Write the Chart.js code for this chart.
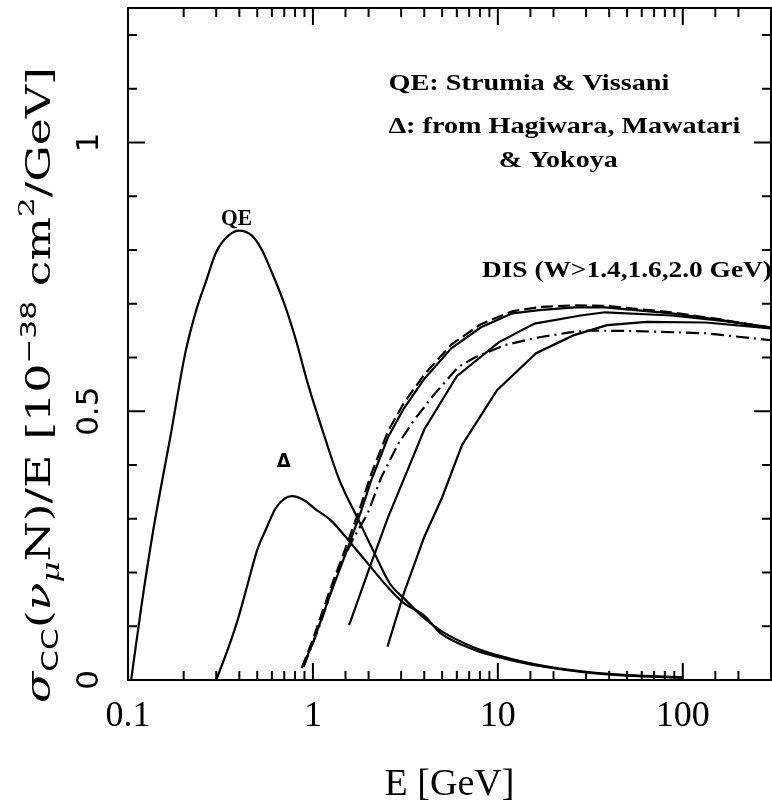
<!DOCTYPE html>
<html>
<head>
<meta charset="utf-8">
<script src="https://cdn.jsdelivr.net/npm/chart.js@4.4.1/dist/chart.umd.min.js"></script>
<style>
  html, body { margin: 0; padding: 0; background: #fff; }
  canvas { display: block; }
</style>
</head>
<body>
<canvas id="grafico" width="772" height="806"></canvas>
<script>
// Valores: E en GeV, sigma/E en 10^-38 cm^2/GeV
const qeE     = [0.104, 0.118, 0.137, 0.151, 0.169, 0.204, 0.234, 0.265, 0.30, 0.35, 0.40, 0.466, 0.53, 0.60, 0.70, 0.81, 0.93, 1.15, 1.39, 1.75, 2.15, 2.6, 3.1, 4.0, 5.0, 7.5, 10, 15, 20, 30, 50, 100];
const qeSigma = [0, 0.136, 0.279, 0.36, 0.45, 0.608, 0.688, 0.743, 0.796, 0.827, 0.836, 0.827, 0.80, 0.758, 0.70, 0.632, 0.556, 0.455, 0.372, 0.30, 0.236, 0.18, 0.152, 0.115, 0.09, 0.06, 0.046, 0.031, 0.023, 0.015, 0.009, 0.005];

const deltaE     = [0.30, 0.35, 0.396, 0.45, 0.50, 0.555, 0.63, 0.70, 0.77, 0.90, 1.03, 1.25, 1.6, 2.0, 2.55, 3.1, 4.0, 4.9, 7.5, 10, 15, 20, 30, 50, 100];
const deltaSigma = [0, 0.061, 0.117, 0.186, 0.242, 0.279, 0.32, 0.337, 0.342, 0.334, 0.318, 0.297, 0.255, 0.215, 0.172, 0.143, 0.12, 0.087, 0.056, 0.043, 0.029, 0.022, 0.014, 0.008, 0.004];

// DIS W>1.4 (continua)
const dis14E     = [0.88, 1.0, 1.25, 1.55, 1.83, 2.07, 2.55, 3.1, 4.0, 5.6, 8.1, 12, 16.7, 26, 38, 87, 165, 300];
const dis14Sigma = [0.025, 0.069, 0.162, 0.247, 0.316, 0.372, 0.452, 0.505, 0.56, 0.617, 0.656, 0.682, 0.688, 0.693, 0.693, 0.682, 0.669, 0.655];

// DIS rayada larga
const disRayaE     = [0.87, 1.0, 1.25, 1.55, 1.83, 2.07, 2.55, 3.1, 4.0, 5.6, 8.1, 12, 17, 26, 38, 87, 165, 300];
const disRayaSigma = [0.022, 0.076, 0.172, 0.258, 0.328, 0.384, 0.463, 0.515, 0.568, 0.624, 0.662, 0.686, 0.694, 0.697, 0.696, 0.684, 0.67, 0.655];

// DIS raya-punto
const disPuntoE     = [0.89, 1.1, 1.39, 1.67, 1.98, 2.34, 2.9, 3.55, 4.5, 6.1, 7.5, 10.9, 15.8, 25, 31, 56, 133, 300];
const disPuntoSigma = [0.024, 0.106, 0.21, 0.266, 0.31, 0.377, 0.44, 0.485, 0.53, 0.582, 0.60, 0.623, 0.636, 0.647, 0.65, 0.649, 0.645, 0.632];

// DIS W>1.6
const dis16E     = [1.57, 2.0, 2.55, 3.3, 4.0, 6.0, 10.1, 15.8, 28, 38, 87, 165, 300];
const dis16Sigma = [0.102, 0.204, 0.303, 0.396, 0.466, 0.565, 0.628, 0.663, 0.678, 0.684, 0.678, 0.668, 0.656];

// DIS W>2.0
const dis20E     = [2.53, 3.1, 4.0, 5.0, 6.4, 9.9, 16.1, 25.6, 39, 64, 133, 300];
const dis20Sigma = [0.062, 0.161, 0.266, 0.34, 0.437, 0.539, 0.608, 0.641, 0.66, 0.666, 0.665, 0.654];

// Etiquetas de ejes
const xMayores     = [0.1, 1, 10, 100];
const xEtiquetas   = ['0.1', '1', '10', '100'];
const yMayores     = [0, 0.5, 1];
const yEtiquetas   = ['0', '0.5', '1'];

function puntos(es, sig){
    return es.map((e, i) => ({ x: e, y: sig[i] }));
}

function esMayor(lista, v){
    return lista.findIndex(m => Math.abs(v - m) < 1e-6 * Math.max(1, Math.abs(m)));
}

// Textos sobre la grafica (anclados en unidades de datos)
const fuenteNota = 'bold 24px "Liberation Serif"';
const notas = [
    { texto: 'QE', e: 0.386, s: 0.846, alinear: 'center', fuente: 'bold 23px "Liberation Serif"', ancho: 31 },
    { texto: 'Δ', e: 0.695, s: 0.396, alinear: 'center', fuente: 'bold 20px "DejaVu Sans"', ancho: 14 },
    { texto: 'QE: Strumia & Vissani', e: 2.56, s: 1.097, alinear: 'left', fuente: fuenteNota, ancho: 281 },
    { texto: 'Δ: from Hagiwara, Mawatari', e: 2.56, s: 1.017, alinear: 'left', fuente: fuenteNota, ancho: 352 },
    { texto: '& Yokoya', e: 10.1, s: 0.955, alinear: 'left', fuente: fuenteNota, ancho: 119 },
    { texto: 'DIS (W>1.4,1.6,2.0 GeV)', e: 8.2, s: 0.749, alinear: 'left', fuente: fuenteNota, ancho: 290 }
];

// Titulo del eje y por partes (sub/superindices)
const serif = '"DejaVu Serif"';
const tituloY = [
    { t: 'σ',        f: 'italic 34px ' + serif, dy: 0 },
    { t: 'CC',       f: '23px "DejaVu Sans"',   dy: 8 },
    { t: '(',        f: '34px ' + serif,        dy: 0 },
    { t: 'ν',        f: 'italic 34px ' + serif, dy: 0 },
    { t: 'μ',        f: 'italic 24px ' + serif, dy: 9 },
    { t: 'N)/E [10', f: '34px ' + serif,        dy: 0 },
    { t: '−38',      f: '22px "DejaVu Sans"',   dy: -14 },
    { t: ' cm',      f: '34px ' + serif,        dy: 0 },
    { t: '2',        f: '23px ' + serif,        dy: -16 },
    { t: '/GeV]',    f: '34px ' + serif,        dy: 0 }
];

function textoAjustado(ctx, txt, x, y, ancho){
    const w = ctx.measureText(txt).width;
    const k = ancho ? ancho / w : 1;
    ctx.save();
    ctx.translate(x, y);
    ctx.scale(k, 1);
    ctx.fillText(txt, 0, 0);
    ctx.restore();
}

// Marco, marcas hacia dentro, titulo y y notas
const marcoEjes = {
    id: 'marcoEjes',
    afterDraw(chart){
        const { ctx, chartArea: a, scales: { x, y } } = chart;
        ctx.save();
        ctx.strokeStyle = '#000';
        ctx.lineWidth = 2;
        ctx.beginPath();
        ctx.rect(a.left, a.top, a.right - a.left, a.bottom - a.top);
        x.ticks.forEach(t => {
            const px = x.getPixelForValue(t.value);
            const len = esMayor(xMayores, t.value) >= 0 ? 17 : 9;
            ctx.moveTo(px, a.bottom); ctx.lineTo(px, a.bottom - len);
            ctx.moveTo(px, a.top);    ctx.lineTo(px, a.top + len);
        });
        y.ticks.forEach(t => {
            const py = y.getPixelForValue(t.value);
            const len = esMayor(yMayores, t.value) >= 0 ? 17 : 9;
            ctx.moveTo(a.left, py);  ctx.lineTo(a.left + len, py);
            ctx.moveTo(a.right, py); ctx.lineTo(a.right - len, py);
        });
        ctx.stroke();

        // Titulo eje y
        ctx.fillStyle = '#000';
        ctx.textBaseline = 'alphabetic';
        ctx.textAlign = 'left';
        let total = 0;
        tituloY.forEach(p => { ctx.font = p.f; total += ctx.measureText(p.t).width; });
        const k = 636 / total;
        ctx.save();
        ctx.translate(50, 703);
        ctx.rotate(-Math.PI / 2);
        ctx.scale(k, 1);
        let cx = 0;
        tituloY.forEach(p => {
            ctx.font = p.f;
            ctx.fillText(p.t, cx, p.dy);
            cx += ctx.measureText(p.t).width;
        });
        ctx.restore();

        // Notas
        notas.forEach(n => {
            ctx.font = n.fuente;
            ctx.textAlign = n.alinear;
            textoAjustado(ctx, n.texto, x.getPixelForValue(n.e), y.getPixelForValue(n.s), n.ancho);
        });
        ctx.restore();
    }
};

function sinRelleno(s){
    s.paddingTop = 0; s.paddingBottom = 0; s.paddingLeft = 0; s.paddingRight = 0;
}

const estiloLinea = { borderColor: '#000', borderWidth: 2.2, pointRadius: 0, fill: false };

new Chart(document.getElementById('grafico'), {
    type: 'line',
    data: {
        datasets: [
            { ...estiloLinea, label: 'QE', data: puntos(qeE, qeSigma), cubicInterpolationMode: 'monotone' },
            { ...estiloLinea, label: 'Delta', data: puntos(deltaE, deltaSigma), cubicInterpolationMode: 'monotone' },
            { ...estiloLinea, label: 'DIS W>1.4', data: puntos(dis14E, dis14Sigma), tension: 0 },
            { ...estiloLinea, label: 'DIS rayada', data: puntos(disRayaE, disRayaSigma), tension: 0, borderDash: [12, 5] },
            { ...estiloLinea, label: 'DIS raya-punto', data: puntos(disPuntoE, disPuntoSigma), tension: 0, borderDash: [13, 5, 2, 5] },
            { ...estiloLinea, label: 'DIS W>1.6', data: puntos(dis16E, dis16Sigma), tension: 0 },
            { ...estiloLinea, label: 'DIS W>2.0', data: puntos(dis20E, dis20Sigma), tension: 0 }
        ]
    },
    options: {
        responsive: false,
        animation: false,
        devicePixelRatio: 1,
        layout: { padding: { top: 8, right: 1, left: 0, bottom: 0 } },
        plugins: {
            legend:  { display: false },
            tooltip: { enabled: false }
        },
        scales: {
            x: {
                type: 'logarithmic',
                min: 0.1,
                max: 300,
                grid:   { display: false, drawTicks: false },
                border: { display: false },
                ticks: {
                    autoSkip: false,
                    maxRotation: 0,
                    padding: 15,
                    color: '#000',
                    font: { family: 'Liberation Serif', size: 36 },
                    callback: v => {
                        const i = esMayor(xMayores, v);
                        return i >= 0 ? xEtiquetas[i] : '';
                    }
                },
                title: {
                    display: true,
                    text: 'E [GeV]',
                    color: '#000',
                    font: { family: 'Liberation Serif', size: 38, lineHeight: 1.1 },
                    padding: 0
                },
                afterFit: s => { s.height = 126; sinRelleno(s); }
            },
            y: {
                type: 'linear',
                min: 0,
                max: 1.25,
                grid:   { display: false, drawTicks: false },
                border: { display: false },
                ticks: {
                    stepSize: 0.1,
                    includeBounds: false,
                    autoSkip: false,
                    minRotation: 90,
                    maxRotation: 90,
                    crossAlign: 'center',
                    padding: 13,
                    color: '#000',
                    font: { family: 'DejaVu Sans', size: 31 },
                    callback: v => {
                        const i = esMayor(yMayores, v);
                        return i >= 0 ? yEtiquetas[i] : '';
                    }
                },
                afterFit: s => { s.width = 128; sinRelleno(s); }
            }
        }
    },
    plugins: [marcoEjes]
});
</script>
</body>
</html>
